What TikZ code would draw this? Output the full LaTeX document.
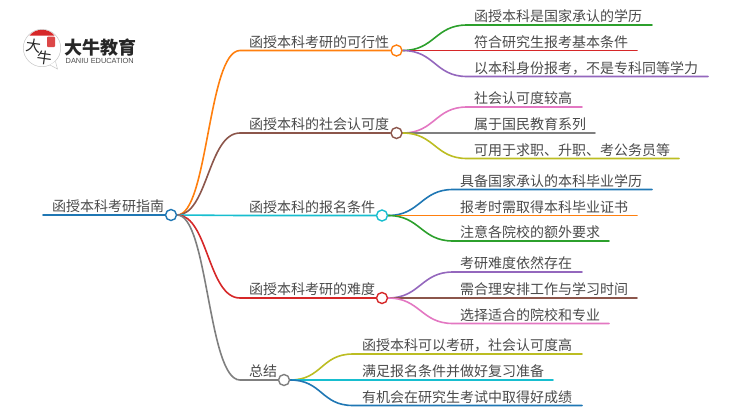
\documentclass[tikz,border=0pt]{standalone}
\usepackage{fontspec}
\usetikzlibrary{backgrounds}
\setmainfont{Noto Sans CJK SC}
\newfontfamily\latinlogo{Liberation Sans}
\definecolor{cblue}{HTML}{1F77B4}
\definecolor{corange}{HTML}{FF7F0E}
\definecolor{cgreen}{HTML}{2CA02C}
\definecolor{cred}{HTML}{D62728}
\definecolor{cpurple}{HTML}{9467BD}
\definecolor{cbrown}{HTML}{8C564B}
\definecolor{cpink}{HTML}{E377C2}
\definecolor{cgray}{HTML}{7F7F7F}
\definecolor{colive}{HTML}{BCBD22}
\definecolor{ccyan}{HTML}{17BECF}
\definecolor{txt}{HTML}{4A4A4A}
\tikzset{
  lab/.style={anchor=base west,inner sep=0pt,text=txt,font=\fontsize{14}{14}\selectfont},
  hub/.style={circle,draw=#1,fill=white,line width=1.4pt,minimum size=11pt,inner sep=0pt},
  wire/.style={draw=#1,line width=1.6pt,line cap=round},
  logochar/.style={inner sep=0pt,text=black!85,font=\fontsize{15}{15}\selectfont},
}
\newcommand{\leafline}[8]{%
  \coordinate (#1a) at (#4,#5);
  \coordinate (#1b) at (#6,#5);
  \node[lab] (#1t) at (#7,#5-3.5) {#8};
  \begin{scope}[on background layer]
  \draw[wire=#2] (#3.east) .. controls +(32,0) and ([xshift=-32pt]#1a) .. (#1a) -- (#1b);
  \end{scope}
}
\newcommand{\trunk}[4]{%
  \coordinate (#1k) at (240,#3);
  \begin{scope}[on background layer]
  \draw[wire=#2] (root.east) .. controls (208,215) and (208,#3) .. (#1k) -- (#1.west);
  \end{scope}
  \node[lab] (#1t) at (249,#3-3.5) {#4};
}
\begin{document}
\begin{tikzpicture}[x=1pt,y=-1pt]
\useasboundingbox (0,0) rectangle (750,410);
% logo
\fill[white,draw=black!22,line width=0.5pt] (42,48) circle (18.7);
\draw[black!22,line width=0.5pt,fill=white] (50,65) -- (57.5,69) -- (55.5,61.5);
\fill[cred] (29.5,35.5) .. controls (33,31.5) and (37,29.8) .. (42,29.8) .. controls (47,29.8) and (51,31.5) .. (54.5,35.5) -- cycle;
\fill[cred!85!white,rounded corners=1pt] (47,36.5) rectangle (55,47);
\node[logochar,rotate=-8] (logoa) at (33.5,46) {大};
\node[logochar,rotate=-8] (logob) at (45,58) {牛};
\node[inner sep=0pt,text=black!85,anchor=base west] (logoc) at (64,54) {\fontsize{18}{18}\selectfont\bfseries 大牛教育};
\node[inner sep=0pt,text=black!70,anchor=base west] (logod) at (65.5,63.2) {\latinlogo\fontsize{7.4}{8}\selectfont DANIU EDUCATION};
% hubs
\node[hub=cblue] (root) at (171,215) {};
\node[hub=corange] (h1) at (396.5,50.5) {};
\node[hub=cbrown] (h2) at (396.5,133) {};
\node[hub=ccyan] (h3) at (382,215.5) {};
\node[hub=cred] (h4) at (382,298) {};
\node[hub=cgray] (h5) at (284,380) {};
% root stem
\coordinate (rs) at (43,215);
\begin{scope}[on background layer]
\draw[wire=cblue] (rs) -- (root.west);
\end{scope}
\node[lab] (rt) at (52,211.5) {函授本科考研指南};
% main branches
\trunk{h1}{corange}{50.5}{函授本科考研的可行性}
\trunk{h2}{cbrown}{133}{函授本科的社会认可度}
\trunk{h3}{ccyan}{215.5}{函授本科的报名条件}
\trunk{h4}{cred}{298}{函授本科考研的难度}
\trunk{h5}{cgray}{380}{总结}
% leaves
\leafline{a}{cgreen}{h1}{467}{25}{652}{474}{函授本科是国家承认的学历}
\leafline{b}{cred}{h1}{467}{50.5}{637}{474}{符合研究生报考基本条件}
\leafline{c}{cpurple}{h1}{467}{76.5}{708}{474}{以本科身份报考，不是专科同等学力}
\leafline{d}{cpink}{h2}{467}{107}{582}{474}{社会认可度较高}
\leafline{e}{cgray}{h2}{467}{133}{595}{474}{属于国民教育系列}
\leafline{f}{colive}{h2}{467}{158.5}{679}{474}{可用于求职、升职、考公务员等}
\leafline{g}{cblue}{h3}{453}{189.5}{652}{460}{具备国家承认的本科毕业学历}
\leafline{h}{corange}{h3}{453}{215.5}{637}{460}{报考时需取得本科毕业证书}
\leafline{i}{cgreen}{h3}{453}{241}{609}{460}{注意各院校的额外要求}
\leafline{j}{cpurple}{h4}{453}{272}{582}{460}{考研难度依然存在}
\leafline{k}{cbrown}{h4}{453}{298}{637}{460}{需合理安排工作与学习时间}
\leafline{l}{cpink}{h4}{453}{323.5}{609}{460}{选择适合的院校和专业}
\leafline{m}{colive}{h5}{353}{354}{582}{362}{函授本科可以考研，社会认可度高}
\leafline{n}{ccyan}{h5}{353}{380}{553}{362}{满足报名条件并做好复习准备}
\leafline{o}{cblue}{h5}{353}{405.5}{582}{362}{有机会在研究生考试中取得好成绩}
\end{tikzpicture}
\end{document}
